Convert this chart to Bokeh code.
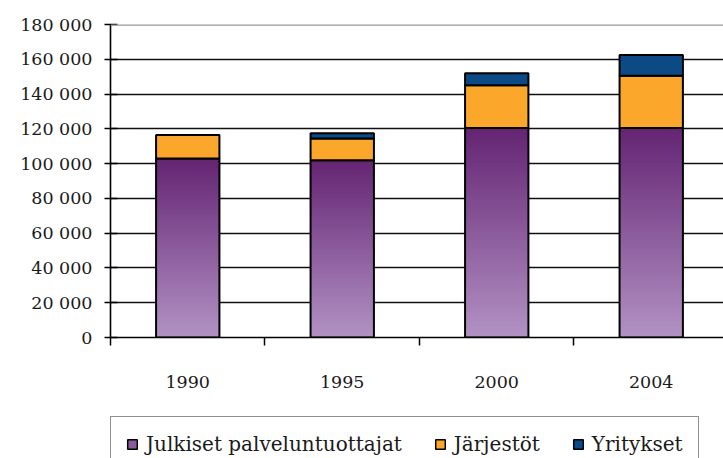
from bokeh.plotting import figure
from bokeh.layouts import column
from bokeh.models import Range1d, FixedTicker, Span, Legend, LegendItem
from bokeh.embed import file_html
from bokeh.resources import INLINE

# ---- data ----
years = ["1990", "1995", "2000", "2004"]
julkiset = [103000, 102000, 120500, 120500]
jarjestot = [13500, 12500, 24500, 30000]
yritykset = [0, 3000, 7000, 12000]
series_names = ["Julkiset palveluntuottajat", "Järjestöt", "Yritykset"]
y_ticks = [0, 20000, 40000, 60000, 80000, 100000, 120000, 140000, 160000, 180000]
y_labels = ["0", "20 000", "40 000", "60 000", "80 000", "100 000", "120 000",
            "140 000", "160 000", "180 000"]

FONT = "DejaVu Serif"
TXT = "#1a1a1a"
ORANGE = "#FAA72C"
BLUE = "#0B4A84"
PURPLE_MID = "#8A5C9C"
TOP_RGB = (100, 36, 115)
BOT_RGB = (178, 146, 196)
BAR_W = 0.41
N_SLICES = 60

n = len(years)
centers = [i + 0.5 for i in range(n)]

p = figure(width=723, height=400, output_backend="svg", toolbar_location=None,
           x_range=Range1d(0, 615 / 155), y_range=Range1d(y_ticks[0], y_ticks[-1]),
           min_border_left=108, min_border_right=0, min_border_top=24,
           min_border_bottom=63)
p.outline_line_color = None
p.background_fill_color = "white"
p.border_fill_color = "white"
p.xgrid.visible = False
p.ygrid.ticker = FixedTicker(ticks=y_ticks[1:-1])
p.ygrid.grid_line_color = "#111111"
p.ygrid.grid_line_width = 1.6

# top border line of plot area
p.add_layout(Span(location=y_ticks[-1], dimension="width", line_color="#9a9a9a",
                  line_width=2.5))

# gradient slices for the first series
sl_l, sl_r, sl_b, sl_t, sl_c = [], [], [], [], []
for c, v in zip(centers, julkiset):
    for k in range(N_SLICES):
        f = (k + 0.5) / N_SLICES
        rgb = tuple(int(round(BOT_RGB[j] + (TOP_RGB[j] - BOT_RGB[j]) * f)) for j in range(3))
        sl_l.append(c - BAR_W / 2)
        sl_r.append(c + BAR_W / 2)
        sl_b.append(v * k / N_SLICES)
        sl_t.append(v * (k + 1) / N_SLICES + (v / N_SLICES * 0.3 if k < N_SLICES - 1 else 0))
        sl_c.append("#%02x%02x%02x" % rgb)
p.quad(left=sl_l, right=sl_r, bottom=sl_b, top=sl_t, fill_color=sl_c, line_color=None)

lefts = [c - BAR_W / 2 for c in centers]
rights = [c + BAR_W / 2 for c in centers]
b2 = julkiset
t2 = [a + b for a, b in zip(julkiset, jarjestot)]
t3 = [a + b for a, b in zip(t2, yritykset)]

p.quad(left=lefts, right=rights, bottom=[0] * n, top=julkiset,
       fill_color=None, line_color="black", line_width=2)
p.quad(left=lefts, right=rights, bottom=b2, top=t2, fill_color=ORANGE,
       line_color="black", line_width=2)
p.quad(left=lefts, right=rights, bottom=t2, top=t3, fill_color=BLUE,
       line_color="black", line_width=2)

# axes
xa = p.xaxis[0]
xa.ticker = FixedTicker(ticks=centers, minor_ticks=list(range(n + 1)))
xa.major_label_overrides = {c: y for c, y in zip(centers, years)}
xa.major_tick_line_color = None
xa.major_tick_in = 0
xa.major_tick_out = 0
xa.minor_tick_in = 0
xa.minor_tick_out = 8
xa.minor_tick_line_color = "black"
xa.minor_tick_line_width = 1.5
xa.axis_line_color = "black"
xa.axis_line_width = 1.6
xa.major_label_standoff = 30
xa.major_label_text_font = FONT
xa.major_label_text_font_size = "17.5px"
xa.major_label_text_color = TXT

ya = p.yaxis[0]
ya.ticker = FixedTicker(ticks=y_ticks)
ya.major_label_overrides = {t: l for t, l in zip(y_ticks, y_labels)}
ya.minor_tick_line_color = None
ya.major_tick_in = 7
ya.major_tick_out = 6
ya.major_tick_line_color = "black"
ya.major_tick_line_width = 1.5
ya.axis_line_color = "black"
ya.axis_line_width = 1.6
ya.major_label_standoff = 12
ya.major_label_text_font = FONT
ya.major_label_text_font_size = "17.5px"
ya.major_label_text_color = TXT

# ---- legend strip below the chart ----
p2 = figure(width=723, height=80, output_backend="svg", toolbar_location=None,
            x_axis_location=None, y_axis_location=None,
            x_range=Range1d(0, 1), y_range=Range1d(0, 1),
            min_border_left=110, min_border_top=16, min_border_right=0,
            min_border_bottom=0)
p2.outline_line_color = None
p2.grid.visible = False
p2.background_fill_color = "white"
p2.border_fill_color = "white"
legend_colors = [PURPLE_MID, ORANGE, BLUE]
leg_renderers = []
for col in legend_colors:
    leg_renderers.append(p2.quad(left=[5], right=[6], bottom=[5], top=[6],
                                 fill_color=col, line_color="black", line_width=1.5))

legend = Legend(items=[LegendItem(label=nm, renderers=[r])
                       for nm, r in zip(series_names, leg_renderers)],
                location="top_left", orientation="horizontal")
legend.glyph_width = 12
legend.glyph_height = 12
legend.label_standoff = 8
legend.spacing = 32
legend.padding = 15
legend.margin = 0
legend.label_text_font = FONT
legend.label_text_font_size = "20px"
legend.label_text_color = TXT
legend.border_line_color = "#222222"
legend.border_line_width = 1.5
legend.background_fill_color = "white"
legend.background_fill_alpha = 1
p2.add_layout(legend)

layout = column(p, p2, spacing=0)
open("out.html", "w").write(file_html(layout, INLINE))
